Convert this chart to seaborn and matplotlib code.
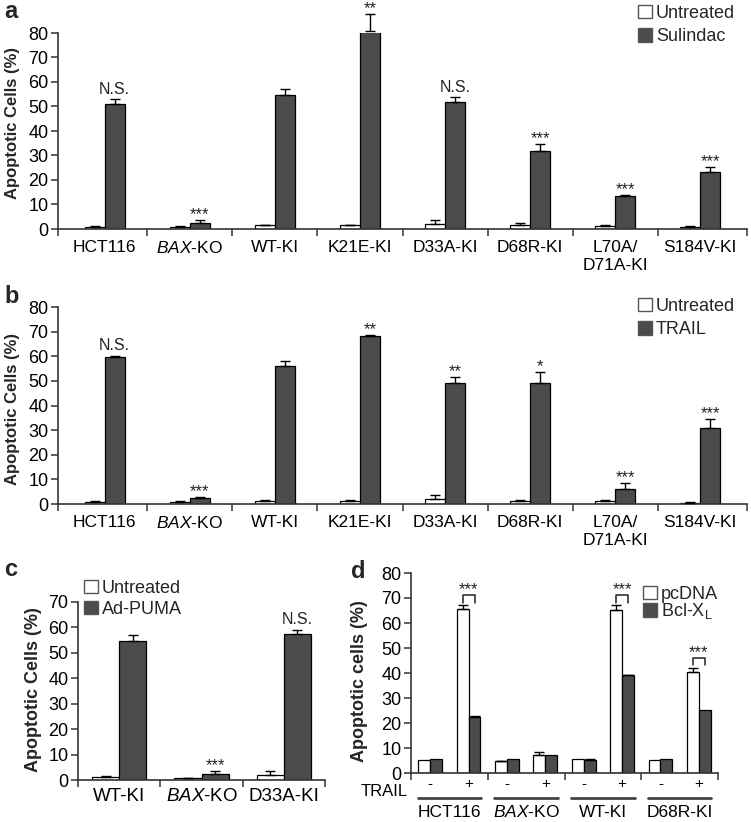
import numpy as np
import pandas as pd
import matplotlib
matplotlib.use('Agg')
import matplotlib.pyplot as plt
import matplotlib.transforms as mtransforms
from matplotlib.patches import Patch
from matplotlib.ticker import FixedLocator
import seaborn as sns

sns.set_theme(style='ticks')
plt.rcParams['font.family'] = ['Liberation Sans', 'DejaVu Sans']
plt.rcParams['mathtext.fontset'] = 'custom'
plt.rcParams['mathtext.rm'] = 'Liberation Sans'
plt.rcParams['mathtext.it'] = 'Liberation Sans:italic'
plt.rcParams['mathtext.bf'] = 'Liberation Sans:bold'

DARK = '#4b4b4b'
SPINE = '#333333'

# ---- panel a : sulindac ----
a_cells = ['HCT116', r'$\mathit{BAX}$-KO', 'WT-KI', 'K21E-KI', 'D33A-KI',
           'D68R-KI', 'L70A/\nD71A-KI', 'S184V-KI']
a_untreated = [1.0, 0.8, 1.5, 1.5, 2.0, 1.6, 1.2, 0.8]
a_untreated_err = [0.3, 0.3, 0.3, 0.3, 1.7, 1.0, 0.3, 0.3]
a_sulindac = [50.9, 2.6, 54.7, 80.8, 52.0, 32.0, 13.5, 23.4]
a_sulindac_err = [2.1, 1.1, 2.3, 7.0, 1.8, 2.7, 0.4, 1.9]
a_sig = ['N.S.', '***', '', '**', 'N.S.', '***', '***', '***']

# ---- panel b : TRAIL ----
b_cells = a_cells
b_untreated = [1.0, 0.8, 1.3, 1.3, 1.9, 1.3, 1.2, 0.6]
b_untreated_err = [0.3, 0.3, 0.3, 0.3, 1.7, 0.5, 0.3, 0.3]
b_trail = [59.6, 2.4, 56.0, 68.2, 49.3, 49.3, 6.1, 30.7]
b_trail_err = [0.6, 0.5, 2.0, 0.5, 2.4, 4.4, 2.6, 3.7]
b_sig = ['N.S.', '***', '', '**', '**', '*', '***', '***']

# ---- panel c : Ad-PUMA ----
c_cells = ['WT-KI', r'$\mathit{BAX}$-KO', 'D33A-KI']
c_untreated = [1.2, 0.6, 2.0]
c_untreated_err = [0.3, 0.3, 1.7]
c_puma = [54.8, 2.4, 57.4]
c_puma_err = [2.2, 1.3, 1.6]
c_sig = ['', '***', 'N.S.']

# ---- panel d : Bcl-XL ----
d_groups = ['HCT116', r'$\mathit{BAX}$-KO', 'WT-KI', 'D68R-KI']
d_trail = ['-', '+']
d_pcdna = [5.2, 65.6, 4.7, 7.2, 5.5, 65.2, 5.2, 40.5]
d_pcdna_err = [0.0, 1.6, 0.3, 1.2, 0.0, 2.0, 0.0, 1.6]
d_bclxl = [5.5, 22.6, 5.6, 7.4, 5.2, 39.1, 5.5, 25.4]
d_bclxl_err = [0.0, 0.3, 0.0, 0.0, 0.3, 0.3, 0.0, 0.0]
d_sig_pos = [1, 5, 7]


def bar_panel(ax, cats, names, values, errors, width):
    df = pd.DataFrame({
        'cat': cats * len(names),
        'grp': [n for n in names for _ in cats],
        'val': [v for vals in values for v in vals],
    })
    sns.barplot(data=df, x='cat', y='val', hue='grp', order=cats,
                hue_order=names, palette=['white', DARK], edgecolor='black',
                linewidth=0.9, width=width, gap=0, errorbar=None,
                legend=False, ax=ax)
    for cont, err in zip(ax.containers, errors):
        xs = np.array([p.get_x() + p.get_width() / 2 for p in cont])
        ys = np.array([p.get_height() for p in cont])
        err = np.array(err)
        keep = err > 0
        ax.errorbar(xs[keep], ys[keep], yerr=[np.zeros(keep.sum()), err[keep]],
                    fmt='none', ecolor='black', elinewidth=1.0, capsize=3.5,
                    capthick=1.0, clip_on=False, zorder=3)


def style_axes(ax, ymax, step, xlo, xhi, bounds):
    sns.despine(ax=ax)
    for s in ['left', 'bottom']:
        ax.spines[s].set_color(SPINE)
        ax.spines[s].set_linewidth(1.2)
    ax.set_ylim(0, ymax)
    ax.set_yticks(np.arange(0, ymax + 1, step))
    ax.set_xlim(xlo, xhi)
    ax.xaxis.set_minor_locator(FixedLocator([xlo] + bounds + [xhi]))
    ax.tick_params(axis='y', direction='out', length=5, width=1.1,
                   color=SPINE, labelsize=13, pad=2, labelcolor='black')
    ax.tick_params(axis='x', which='major', length=0, pad=8,
                   labelsize=12.5, labelcolor='black')
    ax.tick_params(axis='x', which='minor', direction='out', length=5,
                   width=1.1, color=SPINE)
    ax.set_xlabel('')


def add_sig(ax, cont, tops, sigs):
    for p, top, s in zip(cont, tops, sigs):
        if not s:
            continue
        x = p.get_x() + p.get_width() / 2
        if s == 'N.S.':
            ax.text(x, top + 2.2, s, ha='center', va='baseline', fontsize=11.5,
                    color='#222222')
        else:
            ax.text(x, top + 0.3, s, ha='center', va='baseline', fontsize=12,
                    color='#222222')


def legend(ax, names, x, y, fs=13, spacing=0.35):
    handles = [Patch(facecolor=c, edgecolor='#555555', linewidth=1.0)
               for c in ['white', DARK]]
    ax.legend(handles, names, loc='upper left',
              bbox_to_anchor=(x / W, 1 - y / H),
              bbox_transform=fig.transFigure, frameon=False, fontsize=fs,
              handlelength=0.75, handleheight=0.75, handletextpad=0.25,
              labelspacing=spacing, borderpad=0, borderaxespad=0)


W, H = 751, 822
fig = plt.figure(figsize=(W / 100, H / 100), dpi=100)


def px_axes(l, t, r, b):
    return fig.add_axes([l / W, 1 - b / H, (r - l) / W, (b - t) / H])


ax_a = px_axes(58, 33, 747, 229)
ax_b = px_axes(58, 307, 747, 504)
ax_c = px_axes(78, 602, 325, 780)
ax_d = px_axes(411, 573, 718, 773)

# panel a
bar_panel(ax_a, a_cells, ['Untreated', 'Sulindac'],
          [a_untreated, a_sulindac], [a_untreated_err, a_sulindac_err], 0.47)
style_axes(ax_a, 80, 10, -0.55, 7.55, [0.5 + i for i in range(7)])
add_sig(ax_a, ax_a.containers[1], np.add(a_sulindac, a_sulindac_err), a_sig)
ax_a.set_ylabel('Apoptotic Cells (%)', fontsize=12, fontweight='bold')
ax_a.yaxis.set_label_coords(-0.055, 0.54)
legend(ax_a, ['Untreated', 'Sulindac'], 638, 5)

# panel b
bar_panel(ax_b, b_cells, ['Untreated', 'TRAIL'],
          [b_untreated, b_trail], [b_untreated_err, b_trail_err], 0.47)
style_axes(ax_b, 80, 10, -0.55, 7.55, [0.5 + i for i in range(7)])
add_sig(ax_b, ax_b.containers[1], np.add(b_trail, b_trail_err), b_sig)
ax_b.set_ylabel('Apoptotic Cells (%)', fontsize=12, fontweight='bold')
ax_b.yaxis.set_label_coords(-0.055, 0.48)
legend(ax_b, ['Untreated', 'TRAIL'], 638, 298)

# panel c
bar_panel(ax_c, c_cells, ['Untreated', 'Ad-PUMA'],
          [c_untreated, c_puma], [c_untreated_err, c_puma_err], 0.66)
style_axes(ax_c, 70, 10, -0.5, 2.5, [0.5, 1.5])
ax_c.tick_params(axis='x', which='major', labelsize=13.5, pad=6)
add_sig(ax_c, ax_c.containers[1], np.add(c_puma, c_puma_err), c_sig)
ax_c.set_ylabel('Apoptotic Cells (%)', fontsize=13, fontweight='bold')
ax_c.yaxis.set_label_coords(-0.146, 0.51)
legend(ax_c, ['Untreated', 'Ad-PUMA'], 84, 580, spacing=0.2)

# panel d
d_cats = [f'{g} {t}' for g in d_groups for t in d_trail]
bar_panel(ax_d, d_cats, ['pcDNA', 'Bcl-XL'],
          [d_pcdna, d_bclxl], [d_pcdna_err, d_bclxl_err], 0.62)
style_axes(ax_d, 80, 10, -0.5, 7.5, [1.5, 3.5, 5.5])
ax_d.set_xticks(range(len(d_cats)), d_trail * len(d_groups))
ax_d.tick_params(axis='x', which='major', labelsize=11, pad=3)
ax_d.set_ylabel('Apoptotic cells (%)', fontsize=13, fontweight='bold')
ax_d.yaxis.set_label_coords(-0.14, 0.46)
legend(ax_d, ['pcDNA', r'Bcl-X$_\mathregular{L}$'], 643, 586, spacing=-0.1)

blend = mtransforms.blended_transform_factory(ax_d.transData, ax_d.transAxes)
for k, g in enumerate(d_groups):
    c = 2 * k + 0.5
    ax_d.plot([c - 0.83, c + 0.83], [-0.125, -0.125], transform=blend,
              clip_on=False, color='#444444', lw=2)
    ax_d.text(c, -0.195, g, transform=blend, ha='center', va='center',
              fontsize=12.5, color='black')
ax_d.text(-0.012, -0.092, 'TRAIL', transform=ax_d.transAxes, ha='right',
          va='center', fontsize=12, color='black')

# brackets for panel d
pc_bars = ax_d.containers[0]
bc_bars = ax_d.containers[1]
for i in d_sig_pos:
    x0 = pc_bars[i].get_x() + pc_bars[i].get_width() / 2
    x1 = bc_bars[i].get_x() + bc_bars[i].get_width() / 2
    base = d_pcdna[i] + d_pcdna_err[i]
    ax_d.plot([x0, x0, x1, x1], [base + 1, base + 4, base + 4, base + 1],
              color='#222222', lw=1.1, clip_on=False)
    ax_d.text((x0 + x1) / 2, base + 4.3, '***', ha='center', va='baseline',
              fontsize=12, color='#222222')

# panel letters
for lab, x, y in [('a', 4, 0), ('b', 4, 285), ('c', 4, 558), ('d', 351, 560)]:
    fig.text(x / W, 1 - y / H, lab, fontsize=17, fontweight='bold',
             ha='left', va='top')

fig.savefig('out.png', dpi=100)
